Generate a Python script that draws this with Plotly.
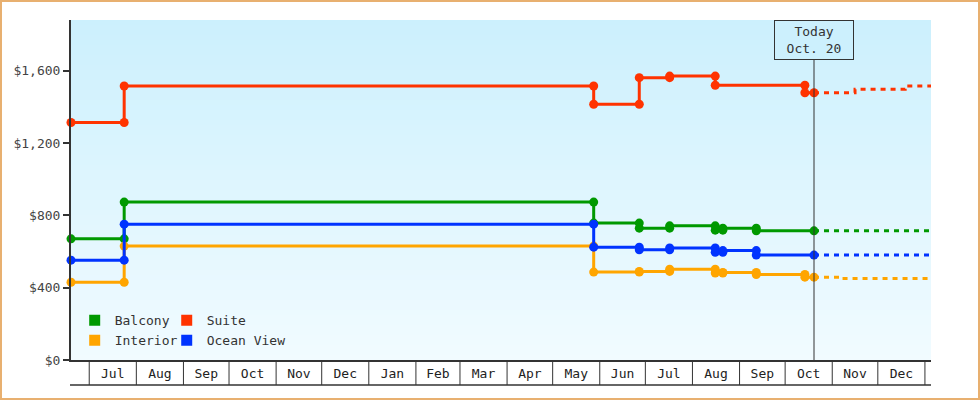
import plotly.graph_objects as go
import pandas as pd

# ---------------- data ----------------
balcony_dates = ["2023-06-19", "2023-07-24", "2023-07-24", "2024-05-28", "2024-05-28",
                 "2024-06-27", "2024-06-27", "2024-07-17", "2024-07-17", "2024-08-16",
                 "2024-08-16", "2024-08-21", "2024-08-21", "2024-09-12", "2024-09-12",
                 "2024-10-20"]
balcony_prices = [670, 670, 873, 873, 757, 757, 729, 729, 742, 742, 718, 718, 729, 729, 714, 714]

suite_dates = ["2023-06-19", "2023-07-24", "2023-07-24", "2024-05-28", "2024-05-28",
               "2024-06-27", "2024-06-27", "2024-07-17", "2024-07-17", "2024-08-16",
               "2024-08-16", "2024-10-14", "2024-10-14", "2024-10-20"]
suite_prices = [1313, 1313, 1515, 1515, 1414, 1414, 1561, 1561, 1570, 1570, 1519, 1519, 1478, 1478]

interior_dates = ["2023-06-19", "2023-07-24", "2023-07-24", "2024-05-28", "2024-05-28",
                  "2024-06-27", "2024-06-27", "2024-07-17", "2024-07-17", "2024-08-16",
                  "2024-08-16", "2024-08-21", "2024-08-21", "2024-09-12", "2024-09-12",
                  "2024-10-14", "2024-10-14", "2024-10-20"]
interior_prices = [430, 430, 630, 630, 486, 486, 490, 490, 502, 502, 481, 481, 484, 484, 473, 473, 458, 458]

ocean_dates = ["2023-06-19", "2023-07-24", "2023-07-24", "2024-05-28", "2024-05-28",
               "2024-06-27", "2024-06-27", "2024-07-17", "2024-07-17", "2024-08-16",
               "2024-08-16", "2024-08-21", "2024-08-21", "2024-09-12", "2024-09-12",
               "2024-10-20"]
ocean_prices = [552, 552, 751, 751, 624, 624, 609, 609, 619, 619, 596, 596, 605, 605, 580, 580]

# forecasts (dotted)
suite_fc_dates = ["2024-10-20", "2024-11-16", "2024-12-19", "2025-01-05"]
suite_fc_prices = [1478, 1497, 1515, 1515]
balcony_fc_dates = ["2024-10-20", "2025-01-05"]
balcony_fc_prices = [714, 714]
ocean_fc_dates = ["2024-10-20", "2025-01-05"]
ocean_fc_prices = [580, 580]
interior_fc_dates = ["2024-10-20", "2024-11-06", "2025-01-05"]
interior_fc_prices = [458, 450, 450]

today = "2024-10-20"
today_label = "Today<br>Oct. 20"
y_ticks = [0, 400, 800, 1200, 1600]

series = [
    ("Balcony", balcony_dates, balcony_prices, balcony_fc_dates, balcony_fc_prices, "#009900", "legend"),
    ("Suite", suite_dates, suite_prices, suite_fc_dates, suite_fc_prices, "#ff3300", "legend2"),
    ("Interior", interior_dates, interior_prices, interior_fc_dates, interior_fc_prices, "#ffa500", "legend"),
    ("Ocean View", ocean_dates, ocean_prices, ocean_fc_dates, ocean_fc_prices, "#0033ff", "legend2"),
]

X_RANGE = ["2023-06-19", "2025-01-05"]
Y_RANGE = [0, 1880]
FONT = "DejaVu Sans Mono"
AX = "#333333"

W, H = 980, 400
ML, MR, MT, MB = 71, 49, 20, 40
PW, PH = W - ML - MR, H - MT - MB

fig = go.Figure()

for name, d, p, fd, fp, col, lg in series:
    fig.add_trace(go.Scatter(x=fd, y=fp, mode="lines", line=dict(color=col, width=3, dash="5px,5px", shape="hv"),
                             showlegend=False, hoverinfo="skip", cliponaxis=False))
for name, d, p, fd, fp, col, lg in series:
    fig.add_trace(go.Scatter(x=d, y=p, mode="lines+markers", name=name,
                             line=dict(color=col, width=3, shape="hv"),
                             marker=dict(color=col, size=9, symbol="circle"),
                             showlegend=False, cliponaxis=False))
for name, d, p, fd, fp, col, lg in series:
    fig.add_trace(go.Scatter(x=[None], y=[None], mode="markers", name=name,
                             marker=dict(color=col, size=11, symbol="square"),
                             legend=lg, showlegend=True))

shapes = []
# gradient background
top = (204, 240, 253)
bot = (241, 251, 255)
N = 68
for i in range(N):
    t = i / (N - 1)
    c = tuple(round(top[k] + (bot[k] - top[k]) * t) for k in range(3))
    shapes.append(dict(type="rect", xref="paper", yref="paper", x0=0, x1=1,
                       y0=1 - (i + 1) / N, y1=1 - i / N, line=dict(width=0),
                       fillcolor="rgb(%d,%d,%d)" % c, layer="below"))

# month separators in the axis band
t0 = pd.Timestamp(X_RANGE[0]); t1 = pd.Timestamp(X_RANGE[1])
span = (t1 - t0).total_seconds()
band = 25 / PH
for m in pd.date_range("2023-07-01", "2025-01-01", freq="MS"):
    xp = (m - t0).total_seconds() / span
    shapes.append(dict(type="line", xref="paper", yref="paper", x0=xp, x1=xp, y0=0, y1=-band,
                       line=dict(color=AX, width=1)))
shapes.append(dict(type="line", xref="paper", yref="paper", x0=-1 / PW, x1=1, y0=-band, y1=-band,
                   line=dict(color=AX, width=1.5)))

# today line
shapes.append(dict(type="line", xref="x", yref="paper", x0=today, x1=today, y0=0, y1=1 - 40 / PH,
                   line=dict(color=AX, width=1)))

# outer border
shapes.append(dict(type="rect", xref="paper", yref="paper",
                   x0=(1 - ML) / PW, x1=(W - 1 - ML) / PW,
                   y0=(PH + MT - (H - 1)) / PH, y1=(PH + MT - 1) / PH,
                   line=dict(color="#e8b070", width=2), fillcolor="rgba(0,0,0,0)"))

fig.update_layout(
    width=W, height=H,
    margin=dict(l=ML, r=MR, t=MT, b=MB),
    paper_bgcolor="white", plot_bgcolor="rgb(230,246,254)",
    font=dict(family=FONT, size=13, color=AX),
    shapes=shapes,
    annotations=[dict(x=today, y=1, xref="x", yref="paper", xanchor="center", yanchor="top",
                      text=today_label, showarrow=False, font=dict(family=FONT, size=13, color=AX),
                      bordercolor=AX, borderwidth=1, borderpad=0, bgcolor="rgb(204,240,253)",
                      width=78, height=38)],
    xaxis=dict(range=X_RANGE, type="date", showgrid=False, zeroline=False,
               showline=True, linecolor=AX, linewidth=2,
               dtick="M1", tick0="2023-07-01", tickformat="%b", ticklabelmode="period",
               ticks="", tickfont=dict(family=FONT, size=13, color="#222")),
    yaxis=dict(range=Y_RANGE, showgrid=False, zeroline=False,
               showline=True, linecolor=AX, linewidth=2,
               tickvals=y_ticks, tickformat="$,", ticks="outside", ticklen=6, tickwidth=2, tickcolor=AX,
               tickfont=dict(family=FONT, size=13, color="#444")),
    legend=dict(x=0.0043, y=0.0138, xanchor="left", yanchor="bottom", bgcolor="rgba(0,0,0,0)",
                font=dict(family=FONT, size=13, color=AX), itemclick=False),
    legend2=dict(x=0.1113, y=0.0138, xanchor="left", yanchor="bottom", bgcolor="rgba(0,0,0,0)",
                 font=dict(family=FONT, size=13, color=AX), itemclick=False),
    hovermode=False,
)

fig.write_html("out.html", config={"displayModeBar": False},
               post_script="document.body.style.margin='0';")
